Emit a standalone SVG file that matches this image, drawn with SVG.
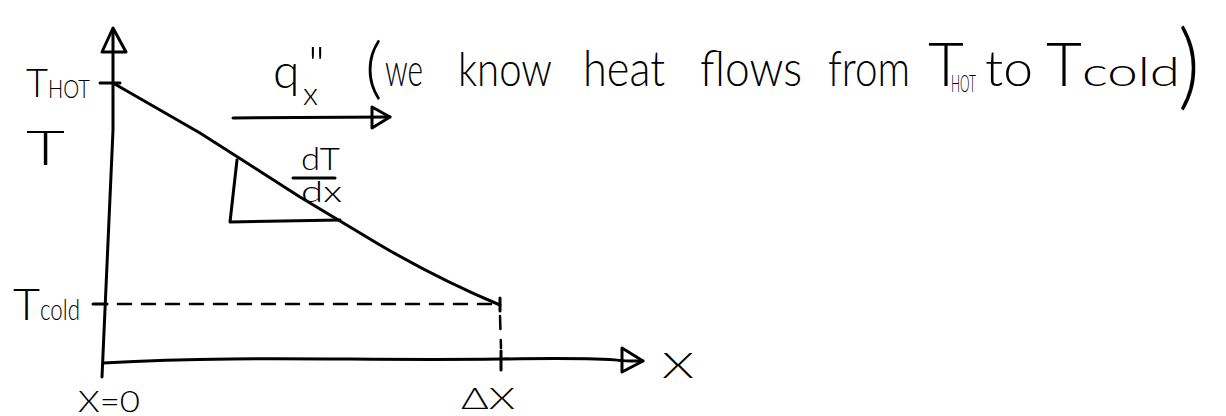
<svg xmlns="http://www.w3.org/2000/svg" width="1226" height="416" viewBox="0 0 1226 416">
<style>
.ln{stroke:#000;stroke-width:3;fill:none;stroke-linecap:round;stroke-linejoin:round}
.dash{stroke:#000;stroke-width:2.5;fill:none;stroke-dasharray:13 11;stroke-linecap:round}
.tx{font-family:"Lato","Liberation Sans","DejaVu Sans",sans-serif;font-weight:300;fill:#000}
</style>
<rect width="1226" height="416" fill="#fff"/>
<g id="connectors">
  <path id="y-axis" class="ln" d="M113,30 L113,130 Q108,230 102,377"/>
  <path id="y-arrow" class="ln" d="M113,28 L102,52 L126,52 Z"/>
  <path id="x-axis" class="ln" d="M103,363 C250,355 350,361 500,359 S600,362 643,361"/>
  <path id="x-arrow" class="ln" d="M622,348 L643,361 L622,372 Z"/>
  <path id="flow-arrow" class="ln" d="M233,118 L390,117"/>
  <path class="ln" d="M372,107 L390,117 L372,128 Z"/>
  <path id="profile" class="ln" d="M113,83 L200,133 L300,197 L380,245 Q440,280 500,305"/>
  <path id="slope" class="ln" d="M237,160 L230,222 L340,220"/>
  <path class="ln" d="M100,83 L120,83"/>
  <path class="ln" d="M93,304 L107,304"/>
  <path class="dash" d="M118,304 L492,304"/>
  <path class="dash" d="M500,316 L501,348"/>
  <path class="ln" d="M500,298 L500,311"/>
  <path class="ln" d="M501,351 L501,370"/>
  <path class="ln" d="M293,178 L335,178"/>
</g>
<g id="label-thot">
  <text class="tx" x="26" y="97" font-size="40" textLength="22" lengthAdjust="spacingAndGlyphs">T</text>
  <text class="tx" x="48" y="98" font-size="25" textLength="42" lengthAdjust="spacingAndGlyphs">HOT</text>
</g>
<g id="label-t">
  <text class="tx" x="26" y="165" font-size="48" textLength="39" lengthAdjust="spacingAndGlyphs">T</text>
</g>
<g id="label-tcold">
  <text class="tx" x="13" y="320" font-size="43" textLength="27" lengthAdjust="spacingAndGlyphs">T</text>
  <text class="tx" x="40" y="320" font-size="29" textLength="40" lengthAdjust="spacingAndGlyphs">cold</text>
</g>
<g id="label-x0">
  <text class="tx" x="78" y="412" font-size="29" textLength="62" lengthAdjust="spacingAndGlyphs">X=0</text>
</g>
<g id="label-dx">
  <text class="tx" x="461" y="409" font-size="30" textLength="54" lengthAdjust="spacingAndGlyphs">ΔX</text>
</g>
<g id="label-x">
  <text class="tx" x="662" y="378" font-size="36" textLength="32" lengthAdjust="spacingAndGlyphs">X</text>
</g>
<g id="label-dtdx">
  <text class="tx" x="301" y="170" font-size="32" textLength="39" lengthAdjust="spacingAndGlyphs">dT</text>
  <text class="tx" x="301" y="202" font-size="30" textLength="41" lengthAdjust="spacingAndGlyphs">dx</text>
</g>
<g id="label-q">
  <text class="tx" x="273" y="88" font-size="48">q<tspan x="308" y="82" font-size="50">"</tspan><tspan x="303" y="105" font-size="32">x</tspan></text>
</g>
<g id="note">
  <text class="tx" x="365" y="91" font-size="67">(</text>
  <text class="tx" x="385" y="86" font-size="46" textLength="38" lengthAdjust="spacingAndGlyphs">we</text>
  <text class="tx" x="458" y="86" font-size="48" textLength="94" lengthAdjust="spacingAndGlyphs">know</text>
  <text class="tx" x="583" y="86" font-size="50" textLength="82" lengthAdjust="spacingAndGlyphs">heat</text>
  <text class="tx" x="700" y="86" font-size="50" textLength="102" lengthAdjust="spacingAndGlyphs">flows</text>
  <text class="tx" x="828" y="86" font-size="50" textLength="82" lengthAdjust="spacingAndGlyphs">from</text>
  <text class="tx" x="928" y="86" font-size="62">T<tspan x="951" y="92" font-size="24" textLength="25" lengthAdjust="spacingAndGlyphs">HOT</tspan></text>
  <text class="tx" x="985" y="86" font-size="50" textLength="48" lengthAdjust="spacingAndGlyphs">to</text>
  <text class="tx" x="1046" y="86" font-size="62">T<tspan x="1082" y="86" font-size="40" textLength="98" lengthAdjust="spacingAndGlyphs">cold</tspan></text>
  <text class="tx" x="1178" y="98" font-size="95" textLength="22" lengthAdjust="spacingAndGlyphs">)</text>
</g>
</svg>
